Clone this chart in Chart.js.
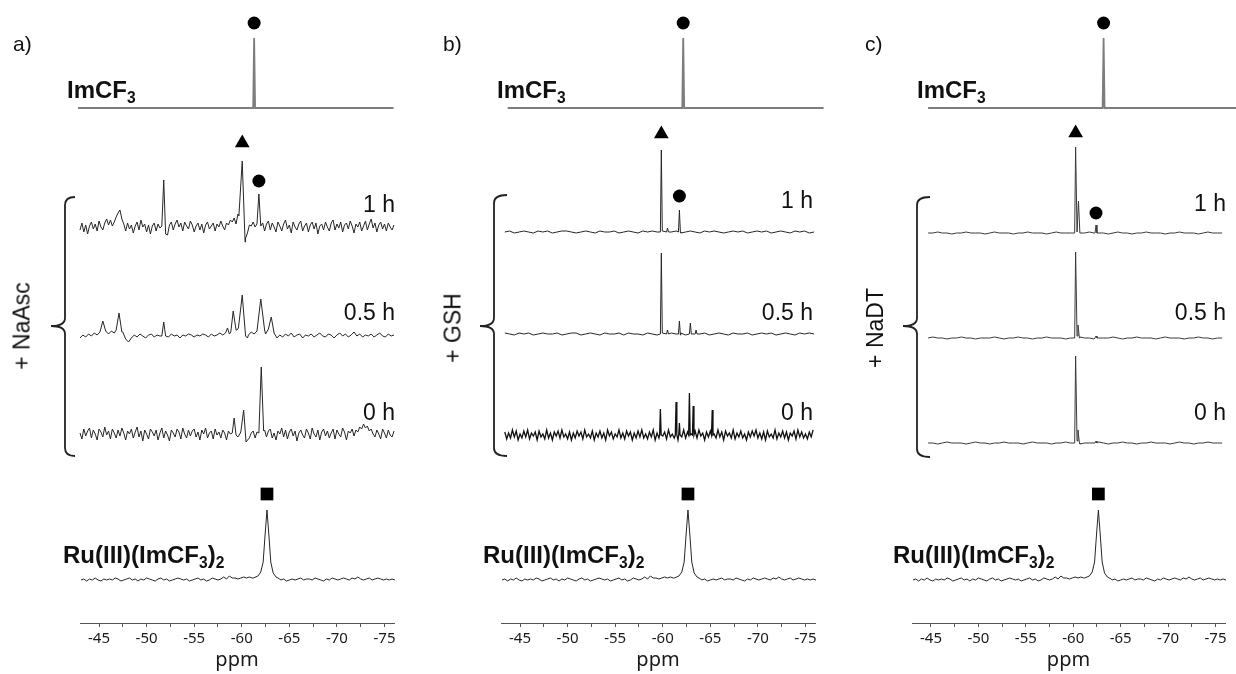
<!DOCTYPE html>
<html>
<head>
<meta charset="utf-8">
<script src="https://cdn.jsdelivr.net/npm/chart.js@4.4.0/dist/chart.umd.min.js"></script>
<style>
  body { margin: 0; background: #fff; width: 1236px; height: 674px; overflow: hidden; position: relative;
         font-family: 'Liberation Sans', Arial, sans-serif; color: #111; }
  canvas { position: absolute; top: 0; }
  .lbl { position: absolute; white-space: nowrap; line-height: 1; transform: translateY(-50%); }
  .bold { font-weight: bold; font-size: 24px; }
  .time { font-size: 23px; transform: translate(-100%, -50%); }
  .tag { font-size: 21px; }
  .rot { font-size: 23px; transform: translate(-50%, -50%) rotate(-90deg); }
  sub { font-size: 65%; vertical-align: -0.3em; line-height: 0; }
  svg { position: absolute; left: 0; top: 0; }
</style>
</head>
<body>
<canvas id="ca" width="412" height="674" style="left:0"></canvas>
<canvas id="cb" width="412" height="674" style="left:412px"></canvas>
<canvas id="cc" width="412" height="674" style="left:824px"></canvas>

<div class="lbl tag" style="left:13px;top:43px">a)</div>
<div class="lbl tag" style="left:443px;top:43px">b)</div>
<div class="lbl tag" style="left:865px;top:43px">c)</div>

<div class="lbl bold" style="left:67px;top:90px">ImCF<sub>3</sub></div>
<div class="lbl bold" style="left:497px;top:90px">ImCF<sub>3</sub></div>
<div class="lbl bold" style="left:917px;top:90px">ImCF<sub>3</sub></div>

<div class="lbl bold" style="left:63px;top:555px">Ru(III)(ImCF<sub>3</sub>)<sub>2</sub></div>
<div class="lbl bold" style="left:483px;top:555px">Ru(III)(ImCF<sub>3</sub>)<sub>2</sub></div>
<div class="lbl bold" style="left:893px;top:555px">Ru(III)(ImCF<sub>3</sub>)<sub>2</sub></div>

<div class="lbl time" style="left:395px;top:204px">1 h</div>
<div class="lbl time" style="left:395px;top:312px">0.5 h</div>
<div class="lbl time" style="left:395px;top:412px">0 h</div>
<div class="lbl time" style="left:813px;top:200px">1 h</div>
<div class="lbl time" style="left:813px;top:312px">0.5 h</div>
<div class="lbl time" style="left:813px;top:412px">0 h</div>
<div class="lbl time" style="left:1226px;top:203px">1 h</div>
<div class="lbl time" style="left:1226px;top:312px">0.5 h</div>
<div class="lbl time" style="left:1226px;top:412px">0 h</div>

<div class="lbl rot" style="left:22px;top:326px">+ NaAsc</div>
<div class="lbl rot" style="left:453px;top:328px">+ GSH</div>
<div class="lbl rot" style="left:875px;top:328px">+ NaDT</div>

<svg width="1236" height="674">
  <g fill="none" stroke="#222" stroke-width="1.8">
    <path d="M75,197 Q65,197 65,205 L65,318 Q65,326 51,326 Q65,326 65,334 L65,448 Q65,456 75,456"/>
    <path d="M507,195 Q494,195 494,203 L494,318 Q494,326 480,326 Q494,326 494,334 L494,448 Q494,456 507,456"/>
    <path d="M930,197 Q917,197 917,205 L917,318 Q917,326 903,326 Q917,326 917,334 L917,449 Q917,457 930,457"/>
  </g>
</svg>

<script>
// ppm axis
const X_MIN = -76, X_MAX = -43;
const majorTicks = [-45, -50, -55, -60, -65, -70, -75];
const minorTicks = [-47.5, -52.5, -57.5, -62.5, -67.5, -72.5];

// ImCF3 reference spectra (flat baseline + one sharp line), [ppm, intensity]
const topA = [[-42.8, 0], [-61.2, 0], [-61.3, 70], [-61.4, 0], [-75.95, 0]];
const topB = [[-43.7, 0], [-62.05, 0], [-62.15, 70], [-62.25, 0], [-76.9, 0]];
const topC = [[-44.7, 0], [-63.1, 0], [-63.2, 70], [-63.3, 0], [-77.2, 0]];

// Ru(III)(ImCF3)2 spectrum (same in all panels): baseline noise from -43.1 ppm, 0.3 ppm steps
const ruNoise = [0, 1, -1, 1, 0, 2, 0, -1, 1, 0, 1, 0, 2, 1, -1, 0, 1, 2, 0, 1,
  -1, 1, 0, 2, 1, 0, -1, 1, 2, 0, 1, -1, 0, 1, 2, 1, 0, 1, -1, 0,
  1, 2, 0, 1, -1, 0, 2, 1, 0, 1, 3, 1, 4, 2, 2, 1, 2, 3, 2, 3,
  2, 1, 0, 1, 0, 0, 0, 0, 0, 1, 0, 1, -1, 0, 1, 0, 1, 2, 0, 1,
  1, 0, 2, 1, 0, -1, 1, 0, 2, 1, 0, 1, 2, 1, 0, 2, 1, 3, 1, 0,
  1, 2, 0, 1, 2, 1, 0, 1, 0, 1, 0];
const ruPeaks = [[[-61.2, 2], [-61.7, 4], [-62.0, 8], [-62.25, 18], [-62.45, 45], [-62.65, 70],
  [-62.85, 45], [-63.05, 18], [-63.3, 7], [-63.6, 3], [-64.0, 1]]];

// a) + NaAsc, noise from -43 ppm in 0.2 ppm steps (0.5 h: 0.3 ppm steps)
const a1hNoise = [-2, 5, -4, 3, -6, 2, 6, -1, 4, -3, 7, 1, -2, 5, 9, 3, 8, 2, 6, 11,
  15, 18, 9, 4, -3, 5, -1, 3, -5, 2, 6, -2, 8, 1, 4, -4, 3, -6, 2, 5,
  -3, 4, 0, 2, 0, 0, -7, 3, 6, -2, 4, 8, 1, 5, -3, 6, 2, -1, 7, 3,
  -4, 2, 5, -2, 4, -5, 3, 6, -1, 2, 5, -3, 4, 1, 7, 2, -2, 5, 3, 8,
  6, 10, 4, 14, 0, 0, 0, -10, -5, 3, 2, 6, 1, 4, 0, 0, 5, -3, 4, 7,
  -2, 5, 1, -4, 6, 2, -3, 4, 8, -1, 3, -5, 6, 1, -2, 4, 7, -3, 2, 5,
  -4, 3, 6, -1, 5, -6, 2, 4, -2, 6, 1, -3, 5, 8, -2, 4, 0, 6, -4, 3,
  5, -1, 7, 2, -5, 4, 1, 6, -3, 2, 7, -2, 4, 9, 0, 5, -4, 3, 6, -1,
  4, -3, 5, 1, -2, 3];
const a1hPeaks = [[[-51.6, 2], [-51.8, 48], [-52.0, -6]],
  [[-59.7, 12], [-60.05, 67], [-60.35, -14]],
  [[-61.6, 4], [-61.8, 34], [-62.0, 2]]];

const a05Noise = [-2, 1, -1, 2, 0, 3, 1, 4, 6, 4, 2, 5, 3, 2, 6, 4, -3, -6, -2, 1,
  -1, 2, 0, -2, 1, 2, -1, 1, 0, 2, 1, -1, 2, 0, 1, -2, 1, 0, 2, 1,
  -1, 1, 0, 2, 1, -1, 2, 0, 1, 3, 1, 4, 2, 5, 3, 6, 4, 2, 3, 1,
  4, 2, 5, 3, 6, 2, -1, 1, 0, -2, 1, -1, 2, 0, 3, -1, 1, 2, -2, 1,
  0, 2, -1, 1, 3, 0, -1, 2, 1, -2, 1, 3, 0, 2, -1, 1, 4, 0, 2, -1,
  1, 0, 2, -1, 1, 3, 0, -1, 2, 0, 1];
const a05Peaks = [[[-45.1, 4], [-45.4, 15], [-45.7, 5]],
  [[-46.8, 6], [-47.1, 23], [-47.4, 4]],
  [[-51.6, 0], [-51.8, 14], [-52.0, 0]],
  [[-58.3, 3], [-58.5, 8], [-58.7, 2]],
  [[-58.85, 4], [-59.1, 25], [-59.4, 6]],
  [[-59.65, 8], [-60.05, 41], [-60.4, 0], [-60.6, -2]],
  [[-61.6, 5], [-62.0, 37], [-62.4, 6]],
  [[-62.8, 7], [-63.1, 19], [-63.4, 3]]];

const a0hNoise = [2, -4, 6, -1, 4, 7, -3, 5, 1, -5, 6, 3, -2, 8, 0, 4, -4, 6, 2, -3,
  5, -1, 7, 2, -5, 4, 1, 6, -3, 3, 8, -2, 4, -6, 5, 1, -4, 6, 3, -1,
  5, -5, 2, 7, -3, 4, 0, -6, 5, 2, -2, 6, 3, -4, 7, 1, -3, 5, -1, 4,
  6, -2, 3, -5, 5, 1, 7, -3, 2, 4, -4, 6, 0, 3, -3, 5, 2, -5, 4, 1,
  3, 0, 0, -2, 1, 0, 0, 0, -6, -3, 2, 4, -3, 3, 0, 0, 0, 5, -2, 4,
  6, -3, 2, -5, 4, 1, 7, -2, 5, -4, 3, 6, -1, 4, -6, 2, 5, 0, -3, 6,
  2, -4, 7, 1, -2, 5, -5, 3, 6, -1, 4, -3, 2, 6, -4, 5, 1, -2, 7, 3,
  -5, 4, 2, 6, -1, 5, 3, 8, 6, 11, 7, 9, 4, 6, 1, -2, 5, 1, -4, 6,
  2, -3, 5, 0, -2, 4];
const a0hPeaks = [[[-59.0, 2], [-59.2, 17], [-59.4, 0]],
  [[-59.9, 3], [-60.2, 25], [-60.45, -7], [-60.7, -4]],
  [[-61.8, 2], [-62.05, 68], [-62.3, 4]]];

// b) + GSH
const b1hNoise = [0, 1, -1, 0, 1, 0, -1, 1, 0, 1, -1, 0, 1, 1, 0, -1, 0, 1, 0, -1,
  1, 0, 0, 1, -1, 0, 1, 0, -1, 1, 0, 1, 0, -1, 1, 0, 1, -1, 0, 1,
  0, -1, 1, 0, 1, 0, -1, 0, 1, 0, 1, -1, 0, 1, 0, 1, -1, 0, 1, 0,
  -1, 1, 0, 1, -1, 0];
const b1hPeaks = [[[-59.75, 0], [-59.85, 82], [-59.95, 1]],
  [[-60.4, 0], [-60.5, 4], [-60.6, 0]],
  [[-61.65, 0], [-61.75, 22], [-61.85, 0]]];

const b05Noise = [1, 0, -1, 1, 0, 1, -1, 0, 1, 0, 0, 1, -1, 0, 1, 1, -1, 0, 1, 0,
  -1, 1, 0, 0, 1, -1, 1, 0, 0, -1, 1, 0, -1, 1, 0, 1, 0, 1, -1, 0,
  1, 0, 1, -1, 0, 1, 0, -1, 1, 0, 0, 1, -1, 0, 1, 0, 1, -1, 0, 1,
  0, -1, 1, 0, 1, 0];
const b05Peaks = [[[-59.75, 0], [-59.85, 81], [-59.95, 1]],
  [[-60.4, 0], [-60.5, 4], [-60.6, 0]],
  [[-61.65, 0], [-61.75, 13], [-61.85, -1]],
  [[-62.8, 0], [-62.9, 11], [-63.0, 0]],
  [[-63.4, 0], [-63.5, 4], [-63.6, 0]]];

const b0hNoise = [3, -4, 2, -3, 5, -2, 4, -5, 1, -3, 4, -2, 5, -4, 2, -1, 3, -5, 4, -2,
  1, -4, 5, -3, 2, -5, 3, -1, 4, -3, 5, -2, 1, -4, 3, -5, 2, -3, 4, -1,
  3, -4, 5, -2, 1, -3, 4, -5, 2, -2, 4, -3, 2, -5, 5, -1, 3, -4, 1, -2,
  5, -3, 2, -4, 4, -1, 3, -5, 2, -3, 4, -2, 5, -3, 1, -4, 3, -2, 5, -5,
  2, -3, 4, -1, 3, -4, 5, -2, 1, -3, 4, -5, 2, -2, 5, -3, 3, -4, 1, -2,
  4, -3, 5, -1, 2, -5, 3, -2, 4, -4, 1, -3, 5, -2, 3, -5, 4, -1, 2, -3,
  5, -4, 2, -2, 4, -3, 1, -5, 3, -2, 4, -1, 5, -3, 2, -4, 3, -5, 4, -2,
  1, -3, 5, -4, 2, -2, 4, -3, 3, -5, 2, -1, 4, -4, 5, -2, 3, -3, 1, -4,
  3, -2, 5];
const b0hPeaks = [[[-59.67, 0], [-59.75, 26], [-59.83, 0]],
  [[-61.32, 0], [-61.4, 33], [-61.48, 0]],
  [[-61.68, 0], [-61.75, 12], [-61.82, 0]],
  [[-62.72, 0], [-62.8, 42], [-62.88, 0]],
  [[-63.12, 0], [-63.2, 29], [-63.28, 0]],
  [[-65.12, 0], [-65.2, 25], [-65.28, 0]]];

// c) + NaDT
const c1hNoise = [0, 0, 1, 0, 0, -1, 0, 0, 1, 0, 0, 0, -1, 0, 1, 0, 0, 0, -1, 0,
  0, 1, 0, 0, 0, -1, 0, 1, 0, 0, 0, -1, 0, 0, 1, 0, 0, 0, -1, 0,
  1, 0, 0, -1, 0, 0, 1, 0, 0, 0, -1, 0, 0, 1, 0, 0, 0, -1, 0, 1, 0, 0, 0];
const c1hPeaks = [[[-60.15, 0], [-60.25, 86], [-60.4, 1], [-60.55, 32], [-60.7, 0]],
  [[-62.3, 0], [-62.4, 8], [-62.5, 0]]];

const c05Noise = [0, 1, 0, 0, -1, 0, 0, 1, 0, 0, -1, 0, 0, 0, 1, 0, -1, 0, 0, 1,
  0, 0, -1, 0, 0, 1, 0, 0, 0, -1, 0, 0, 1, 0, 0, -1, 0, 0, 0, 1,
  0, -1, 0, 0, 1, 0, 0, 0, -1, 0, 1, 0, 0, 0, -1, 0, 0, 1, 0, 0, -1, 0, 0];
const c05Peaks = [[[-60.15, 0], [-60.25, 86], [-60.4, 2], [-60.5, 13], [-60.65, 0]],
  [[-62.3, 0], [-62.4, 2], [-62.5, 0]]];

const c0hNoise = [0, 0, -1, 0, 1, 0, 0, 0, -1, 0, 1, 0, 0, -1, 0, 0, 1, 0, 0, 0,
  -1, 0, 1, 0, 0, 0, -1, 0, 0, 1, 0, 0, -1, 0, 0, 0, 1, 0, -1, 0,
  0, 1, 0, 0, -1, 0, 0, 1, 0, 0, 0, -1, 0, 1, 0, 0, -1, 0, 0, 1, 0, 0, 0];
const c0hPeaks = [[[-60.15, 0], [-60.25, 87], [-60.4, 2], [-60.5, 13], [-60.65, 0]],
  [[-62.3, 0], [-62.4, 2], [-62.5, 0]]];

// merge a noise baseline (start ppm, step) with explicit peak points
function spectrum(start, step, noise, peaks) {
  const pts = noise.map((v, i) => ({ x: +(start - i * step).toFixed(3), y: v }))
    .filter(p => !peaks.some(g => p.x <= g[0][0] && p.x >= g[g.length - 1][0]));
  peaks.forEach(g => g.forEach(([x, y]) => pts.push({ x, y })));
  return pts.sort((a, b) => b.x - a.x);
}
const pairs = arr => arr.map(([x, y]) => ({ x, y }));
const peakTop = (peaks, ppm) => {
  const g = peaks.find(g => ppm <= g[0][0] && ppm >= g[g.length - 1][0]);
  return Math.max(...g.map(p => p[1]));
};

const panels = [
  {
    id: 'ca', padL: 80, padR: 18,
    traces: [
      { pts: pairs(topA), base: 515, top: true },
      { pts: spectrum(-43, 0.2, a1hNoise, a1hPeaks), base: 395 },
      { pts: spectrum(-43, 0.3, a05Noise, a05Peaks), base: 287 },
      { pts: spectrum(-43, 0.2, a0hNoise, a0hPeaks), base: 188 },
      { pts: spectrum(-43.1, 0.3, ruNoise, ruPeaks), base: 43 },
    ],
    marks: [
      { style: 'circle', ppm: -61.3, y: 515 + 70, gap: 15 },
      { style: 'triangle', ppm: -60.05, y: 395 + peakTop(a1hPeaks, -60.05), gap: 18 },
      { style: 'circle', ppm: -61.8, y: 395 + peakTop(a1hPeaks, -61.8), gap: 13 },
      { style: 'rect', ppm: -62.65, y: 43 + peakTop(ruPeaks, -62.65), gap: 16 },
    ],
  },
  {
    id: 'cb', padL: 89, padR: 9,
    traces: [
      { pts: pairs(topB), base: 515, top: true },
      { pts: spectrum(-43.4, 0.5, b1hNoise, b1hPeaks), base: 391 },
      { pts: spectrum(-43.4, 0.5, b05Noise, b05Peaks), base: 289 },
      { pts: spectrum(-43.4, 0.2, b0hNoise, b0hPeaks), base: 188, width: 1.3, color: '#111' },
      { pts: spectrum(-43.1, 0.3, ruNoise, ruPeaks), base: 43 },
    ],
    marks: [
      { style: 'circle', ppm: -62.15, y: 515 + 70, gap: 15 },
      { style: 'triangle', ppm: -59.85, y: 391 + peakTop(b1hPeaks, -59.85), gap: 16 },
      { style: 'circle', ppm: -61.75, y: 391 + peakTop(b1hPeaks, -61.75), gap: 14 },
      { style: 'rect', ppm: -62.65, y: 43 + peakTop(ruPeaks, -62.65), gap: 16 },
    ],
  },
  {
    id: 'cc', padL: 88, padR: 11,
    traces: [
      { pts: pairs(topC), base: 515, top: true },
      { pts: spectrum(-44.7, 0.5, c1hNoise, c1hPeaks), base: 390, color: '#3a3a3a' },
      { pts: spectrum(-44.7, 0.5, c05Noise, c05Peaks), base: 285, color: '#3a3a3a' },
      { pts: spectrum(-44.7, 0.5, c0hNoise, c0hPeaks), base: 180, color: '#3a3a3a' },
      { pts: spectrum(-43.1, 0.3, ruNoise, ruPeaks), base: 43 },
    ],
    marks: [
      { style: 'circle', ppm: -63.2, y: 515 + 70, gap: 15 },
      { style: 'triangle', ppm: -60.25, y: 390 + peakTop(c1hPeaks, -60.25), gap: 14 },
      { style: 'circle', ppm: -62.4, y: 390 + peakTop(c1hPeaks, -62.4), gap: 12 },
      { style: 'rect', ppm: -62.65, y: 43 + peakTop(ruPeaks, -62.65), gap: 16 },
    ],
  },
];

const MARK_SIZE = { circle: 6.5, triangle: 8.5, rect: 9 };

panels.forEach(p => {
  const datasets = p.traces.map(t => ({
    data: t.pts.map(d => ({ x: d.x, y: d.y + t.base })),
    borderColor: t.top ? '#7d7d7d' : (t.color || '#262626'),
    borderWidth: t.top ? 1.8 : (t.width || 1),
    pointRadius: 0,
    tension: 0,
    clip: false,
  }));
  p.marks.forEach(m => datasets.push({
    type: 'scatter',
    data: [{ x: m.ppm, y: m.y + m.gap }],
    pointStyle: m.style,
    pointRadius: MARK_SIZE[m.style],
    backgroundColor: '#000',
    borderWidth: 0,
    clip: false,
  }));

  new Chart(document.getElementById(p.id), {
    type: 'line',
    data: { datasets },
    options: {
      responsive: false,
      animation: false,
      devicePixelRatio: 1,
      layout: { padding: { left: p.padL, right: p.padR, top: 0, bottom: 0 } },
      plugins: { legend: { display: false }, tooltip: { enabled: false } },
      scales: {
        x: {
          type: 'linear', min: X_MIN, max: X_MAX, reverse: true,
          afterBuildTicks: s => {
            s.ticks = [...majorTicks, ...minorTicks].sort((a, b) => b - a).map(v => ({ value: v }));
          },
          afterFit: s => { s.height = 51; },
          grid: { drawOnChartArea: false, tickLength: 4, color: '#555' },
          border: { color: '#555' },
          ticks: {
            autoSkip: false, maxRotation: 0, padding: 3, color: '#1a1a1a',
            font: { family: "'Noto Sans', sans-serif", size: 15 },
            callback: v => majorTicks.includes(v) ? String(v) : '',
          },
          title: {
            display: true, text: 'ppm', color: '#1a1a1a',
            font: { family: "'Noto Sans', sans-serif", size: 20 },
            padding: { top: 0, bottom: 2 },
          },
        },
        y: { display: false, min: 0, max: 614 },
      },
    },
  });
});
</script>
</body>
</html>
